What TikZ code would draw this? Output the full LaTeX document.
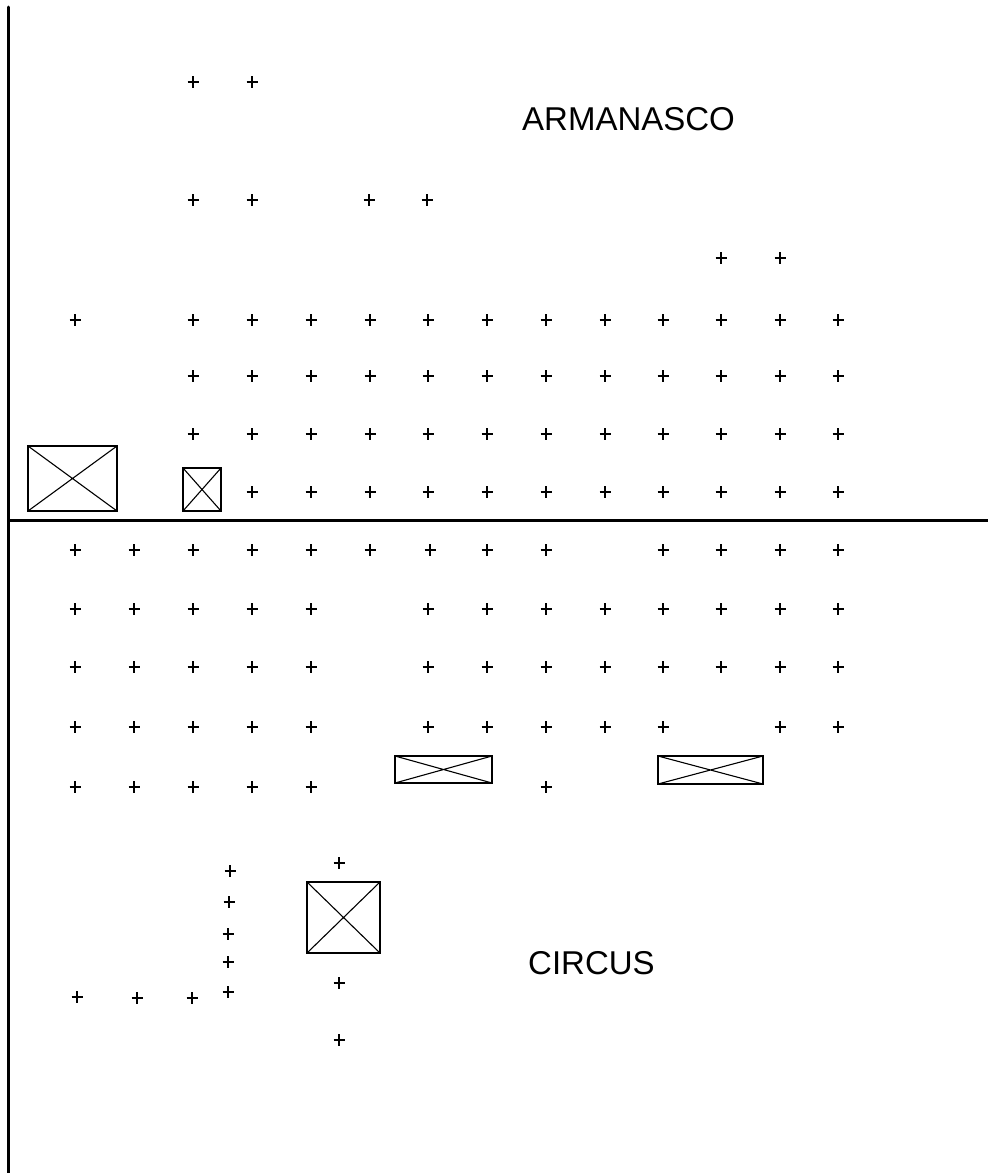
\documentclass[tikz,border=0pt]{standalone}
\usepackage{fontspec}
\setmainfont{Liberation Sans}
\begin{document}
\begin{tikzpicture}[x=1pt,y=-1pt,
  plusmark/.style={line width=2.2pt,line cap=butt},
  frame/.style={line width=3pt,line cap=round},
  xbox/.style={draw,line width=1.6pt,inner sep=0pt,outer sep=0pt,rectangle},
  xdiag/.style={line width=1.1pt},
  label/.style={inner sep=0pt,font=\fontsize{33}{33}\selectfont,anchor=base west}]
\useasboundingbox[fill=white] (0,0) rectangle (988,1173);
% frame lines
\coordinate (vtop) at (8,7);
\coordinate (vbot) at (8,1173);
\coordinate (hl) at (8,520);
\coordinate (hr) at (988,520);
\draw[frame] (vtop) -- (vbot);
\draw[frame,line cap=butt] (hl) -- (hr);
% plus marks
\foreach \x/\y in {
 193/82,252/82,
 193/200,252/200,369/200,427/200,
 721/258,780/258,
 75/320,193/320,252/320,311/320,370/320,428/320,487/320,546/320,605/320,663/320,721/320,780/320,838/320,
 193/376,252/376,311/376,370/376,428/376,487/376,546/376,605/376,663/376,721/376,780/376,838/376,
 193/434,252/434,311/434,370/434,428/434,487/434,546/434,605/434,663/434,721/434,780/434,838/434,
 252/492,311/492,370/492,428/492,487/492,546/492,605/492,663/492,721/492,780/492,838/492,
 75/550,134/550,193/550,252/550,311/550,370/550,430/550,487/550,546/550,663/550,721/550,780/550,838/550,
 75/609,134/609,193/609,252/609,311/609,428/609,487/609,546/609,605/609,663/609,721/609,780/609,838/609,
 75/667,134/667,193/667,252/667,311/667,428/667,487/667,546/667,605/667,663/667,721/667,780/667,838/667,
 75/727,134/727,193/727,252/727,311/727,428/727,487/727,546/727,605/727,663/727,780/727,838/727,
 75/787,134/787,193/787,252/787,311/787,546/787,
 230/871,229/902,228/934,228/962,228/992,
 77/997,137/998,192/998,
 339/863,339/983,339/1040}
 {\draw[plusmark] (\x-5.5,\y) -- (\x+5.5,\y) (\x,\y-6) -- (\x,\y+6);}
% boxes with crosses
\node[xbox,minimum width=89pt,minimum height=65pt] (b1) at (72.5,478.5) {};
\node[xbox,minimum width=38pt,minimum height=43pt] (b2) at (202,489.5) {};
\node[xbox,minimum width=97pt,minimum height=27pt] (b3) at (443.5,769.5) {};
\node[xbox,minimum width=105pt,minimum height=28pt] (b4) at (710.5,770) {};
\node[xbox,minimum width=73pt,minimum height=71pt] (b5) at (343.5,917.5) {};
\foreach \b in {b1,b2,b3,b4,b5}
  {\draw[xdiag] (\b.north west) -- (\b.south east) (\b.north east) -- (\b.south west);}
% labels
\node[label] (arm) at (522,130) {ARMANASCO};
\node[label] (cir) at (528,974) {CIRCUS};
\end{tikzpicture}
\end{document}
